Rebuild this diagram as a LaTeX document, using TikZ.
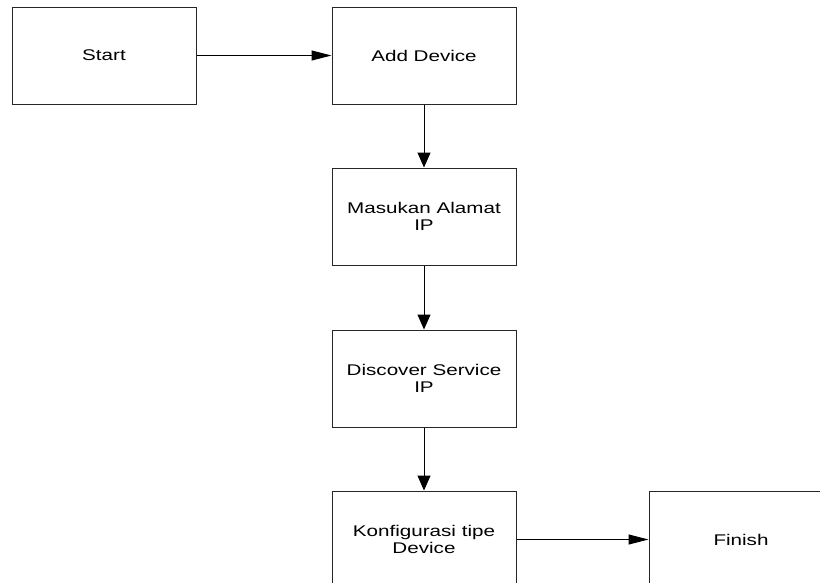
\documentclass[tikz,border=0pt]{standalone}
\usepackage{fontspec}
\setmainfont{Liberation Sans}
\newfontfamily\boxfont[FakeStretch=1.33]{Liberation Sans}
\usetikzlibrary{arrows.meta}
\begin{document}
\begin{tikzpicture}[x=1pt,y=1pt,
  stepbox/.style={draw=black!85, line width=1pt, minimum width=184pt, minimum height=97pt,
    inner sep=0pt, align=center, font=\boxfont\fontsize{15.5}{17.5}\selectfont},
  varrow/.style={line width=1pt, -{Triangle[length=15pt,width=13pt]}},
  harrow/.style={line width=1pt, -{Triangle[length=20pt,width=10pt]}}]
\useasboundingbox (0,0) rectangle (820,-582);
\clip (0,0) rectangle (820,-582);
\fill[white] (0,0) rectangle (820,-582);
\node[stepbox] (start) at (104,-55.5) {Start};
\node[stepbox] (add) at (424,-55.5) {Add Device};
\node[stepbox] (ip) at (424,-216.5) {Masukan Alamat\\IP};
\node[stepbox] (disc) at (424,-378.5) {Discover Service\\IP};
\node[stepbox] (konf) at (424,-539.5) {Konfigurasi tipe\\Device};
\node[stepbox] (fin) at (741,-539.5) {Finish};
\draw[harrow] (start) -- (add);
\draw[varrow] (add) -- (ip);
\draw[varrow] (ip) -- (disc);
\draw[varrow] (disc) -- (konf);
\draw[harrow] (konf) -- (fin);
\end{tikzpicture}
\end{document}
